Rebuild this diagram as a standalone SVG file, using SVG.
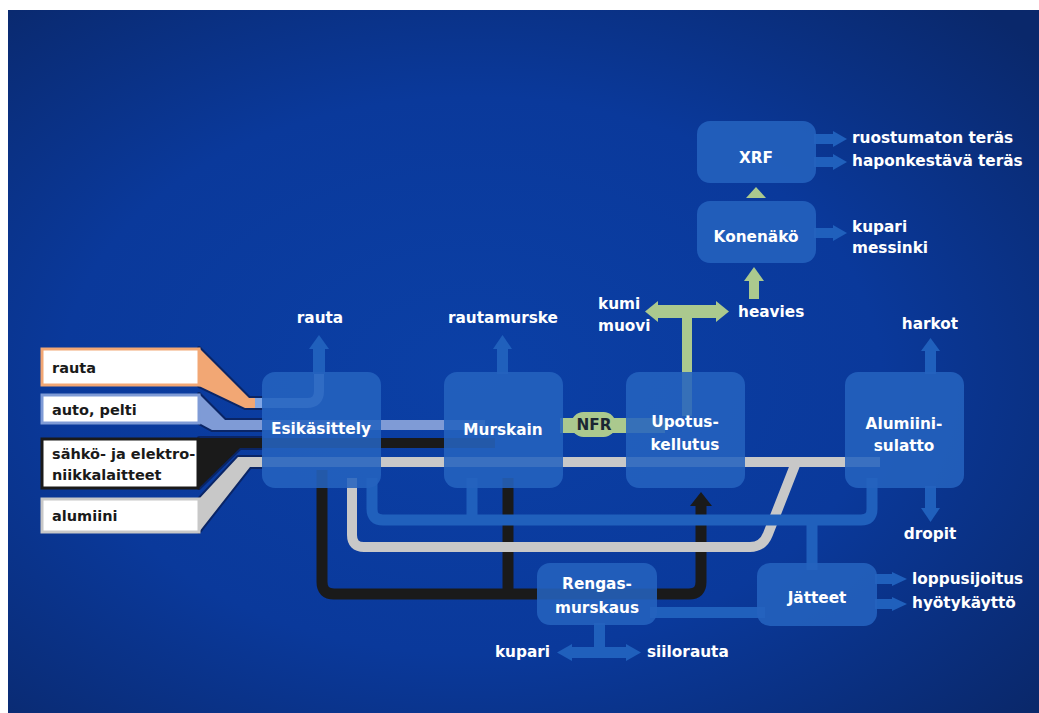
<svg xmlns="http://www.w3.org/2000/svg" width="1039" height="713" viewBox="0 0 1039 713">
<defs>
<radialGradient id="bg" cx="0.45" cy="0.52" r="0.72">
<stop offset="0" stop-color="#0b40a6"/>
<stop offset="0.55" stop-color="#0a399b"/>
<stop offset="1" stop-color="#0a286b"/>
</radialGradient>
<style>
.box{fill:#2563bf;fill-opacity:0.87}
.t{font-family:"DejaVu Sans","Liberation Sans",sans-serif;font-weight:bold;font-size:15.3px;fill:#ffffff}
.in{font-family:"DejaVu Sans","Liberation Sans",sans-serif;font-weight:bold;font-size:14.5px;fill:#1a1a1a}
.m{text-anchor:middle}
.e{text-anchor:end}
.fl{fill:#2060bc}
.ln{fill:none;stroke-linejoin:round}
.grn{fill:#abc98e}
.band{stroke:#0a2566;stroke-width:4;paint-order:stroke;stroke-linejoin:round}
.inbox{fill:#ffffff;stroke-width:3}
</style>
</defs>
<rect x="0" y="0" width="1039" height="713" fill="#ffffff"/>
<rect x="8" y="10" width="1031" height="703" fill="url(#bg)"/>

<g id="connectors">
  <!-- input bands -->
  <polygon class="band" points="199,348 249,398 262,398 262,408 245,408 199,386" fill="#f2a774"/>
  <polygon class="band" points="199,394 225,420 262,420 262,430 212,430 199,423" fill="#7f9bd6"/>
  <polygon class="band" points="199,438 262,438 262,448 240,448 199,488" fill="#1a1a1a"/>
  <polygon class="band" points="199,499 238,457 262,457 262,467 250,467 199,532" fill="#c8c8c8"/>
  <rect x="255" y="420" width="230" height="10" fill="#7f9bd6"/>
  <rect x="255" y="438" width="240" height="10" fill="#1a1a1a"/>
  <rect x="255" y="457" width="625" height="10" fill="#c8c8c8"/>
  <path class="ln" d="M255,403 H307 Q319,403 319,391 V372" stroke="#7fa6e6" stroke-width="10"/>
  <!-- black route -->
  <path class="ln" d="M322,470 V582 Q322,594 334,594 H689 Q701,594 701,582 V504" stroke="#1a1a1a" stroke-width="11"/>
  <path class="ln" d="M508,478 V594" stroke="#1a1a1a" stroke-width="11"/>
  <polygon points="690,506 701,492 712,506" fill="#1a1a1a"/>
  <!-- gray route -->
  <path class="ln" d="M352,478 V535 Q352,547 364,547 H750 Q763,547 768,534 L797,460" stroke="#c8c8c8" stroke-width="10"/>
  <!-- blue waste route -->
  <path class="ln" d="M372,478 V509 Q372,520 383,520 H861 Q872,520 872,509 V478" stroke="#2060bc" stroke-width="11"/>
  <path class="ln" d="M472,478 V520" stroke="#2060bc" stroke-width="11"/>
  <path class="ln" d="M812,520 V570" stroke="#2060bc" stroke-width="11"/>
  <path class="ln" d="M650,612.5 H765" stroke="#2060bc" stroke-width="11"/>
  <!-- blue output arrows -->
  <rect class="fl" x="313" y="347" width="12" height="27"/>
  <polygon class="fl" points="309,349 319,335 329,349"/>
  <rect class="fl" x="497" y="347" width="11" height="27"/>
  <polygon class="fl" points="493,349 502.5,335 512,349"/>
  <rect class="fl" x="925" y="349" width="11" height="25"/>
  <polygon class="fl" points="921,351 930.5,338 940,351"/>
  <rect class="fl" x="925" y="486" width="11" height="23"/>
  <polygon class="fl" points="921,508 930.5,522 940,508"/>
  <rect class="fl" x="814" y="134" width="20" height="10"/>
  <polygon class="fl" points="833,131 847,139 833,147"/>
  <rect class="fl" x="814" y="157" width="20" height="10"/>
  <polygon class="fl" points="833,154 847,162 833,170"/>
  <rect class="fl" x="814" y="228" width="20" height="10"/>
  <polygon class="fl" points="833,225 847,233 833,241"/>
  <rect class="fl" x="875" y="574" width="18" height="10"/>
  <polygon class="fl" points="892,572 907,579 892,586"/>
  <rect class="fl" x="875" y="599" width="18" height="10"/>
  <polygon class="fl" points="892,597 907,604 892,611"/>
  <rect class="fl" x="594" y="623" width="11" height="30"/>
  <rect class="fl" x="570" y="647" width="58" height="11"/>
  <polygon class="fl" points="572,644 557,652.5 572,661"/>
  <polygon class="fl" points="626,644 641,652.5 626,661"/>
  <!-- green -->
  <polygon class="grn" points="746,198 756,187 766,198"/>
  <rect class="grn" x="749" y="279" width="10" height="20"/>
  <polygon class="grn" points="744,281 754,267 764,281"/>
  <rect class="grn" x="655" y="305" width="64" height="13"/>
  <polygon class="grn" points="658,301 645,311.5 658,322"/>
  <polygon class="grn" points="716,301 729,311.5 716,322"/>
  <rect class="grn" x="682" y="316" width="10" height="100"/>
  <rect class="grn" x="560" y="418" width="105" height="15"/>
  <rect class="grn" x="571" y="412" width="45" height="25" rx="12.5"/>
  <text class="t m" x="594" y="430" style="fill:#1b2633">NFR</text>
</g>

<g id="in-rauta">
  <rect class="inbox" x="42" y="349" width="157" height="36" stroke="#f2a774"/>
  <text class="in" x="52" y="373">rauta</text>
</g>
<g id="in-auto">
  <rect class="inbox" x="42" y="395" width="157" height="28" stroke="#7f9bd6"/>
  <text class="in" x="52" y="415">auto, pelti</text>
</g>
<g id="in-sahko">
  <rect class="inbox" x="42" y="439" width="156" height="49" stroke="#1a1a1a" stroke-width="4"/>
  <text class="in" x="52" y="459">sähkö- ja elektro-</text>
  <text class="in" x="52" y="480">niikkalaitteet</text>
</g>
<g id="in-alumiini">
  <rect class="inbox" x="42" y="499" width="157" height="33" stroke="#c8c8c8"/>
  <text class="in" x="52" y="521">alumiini</text>
</g>

<g id="esikasittely">
  <rect class="box" x="262" y="372" width="119" height="116" rx="13"/>
  <text class="t m" x="321" y="434">Esikäsittely</text>
  <text class="t m" x="320" y="323">rauta</text>
</g>
<g id="murskain">
  <rect class="box" x="444" y="372" width="119" height="116" rx="13"/>
  <text class="t m" x="503" y="435">Murskain</text>
  <text class="t m" x="503" y="323">rautamurske</text>
</g>
<g id="upotus">
  <rect class="box" x="626" y="372" width="119" height="116" rx="13"/>
  <text class="t m" x="685" y="427">Upotus-</text>
  <text class="t m" x="685" y="450">kellutus</text>
  <text class="t" x="598" y="309">kumi</text>
  <text class="t" x="598" y="331">muovi</text>
  <text class="t" x="738" y="317">heavies</text>
</g>
<g id="alumiinisulatto">
  <rect class="box" x="845" y="372" width="119" height="116" rx="13"/>
  <text class="t m" x="904" y="429">Alumiini-</text>
  <text class="t m" x="904" y="451">sulatto</text>
  <text class="t m" x="930" y="329">harkot</text>
  <text class="t m" x="930" y="539">dropit</text>
</g>
<g id="xrf">
  <rect class="box" x="697" y="121" width="119" height="62" rx="13"/>
  <text class="t m" x="756" y="163">XRF</text>
  <text class="t" x="852" y="143">ruostumaton teräs</text>
  <text class="t" x="852" y="166">haponkestävä teräs</text>
</g>
<g id="konenako">
  <rect class="box" x="697" y="201" width="119" height="62" rx="13"/>
  <text class="t m" x="756" y="242">Konenäkö</text>
  <text class="t" x="852" y="232">kupari</text>
  <text class="t" x="852" y="253">messinki</text>
</g>
<g id="rengasmurskaus">
  <rect class="box" x="537" y="563" width="120" height="62" rx="13"/>
  <text class="t m" x="597" y="589">Rengas-</text>
  <text class="t m" x="597" y="613">murskaus</text>
  <text class="t e" x="550" y="657">kupari</text>
  <text class="t" x="647" y="657">siilorauta</text>
</g>
<g id="jatteet">
  <rect class="box" x="757" y="563" width="120" height="63" rx="13"/>
  <text class="t m" x="817" y="603">Jätteet</text>
  <text class="t" x="912" y="584">loppusijoitus</text>
  <text class="t" x="912" y="608">hyötykäyttö</text>
</g>
</svg>
